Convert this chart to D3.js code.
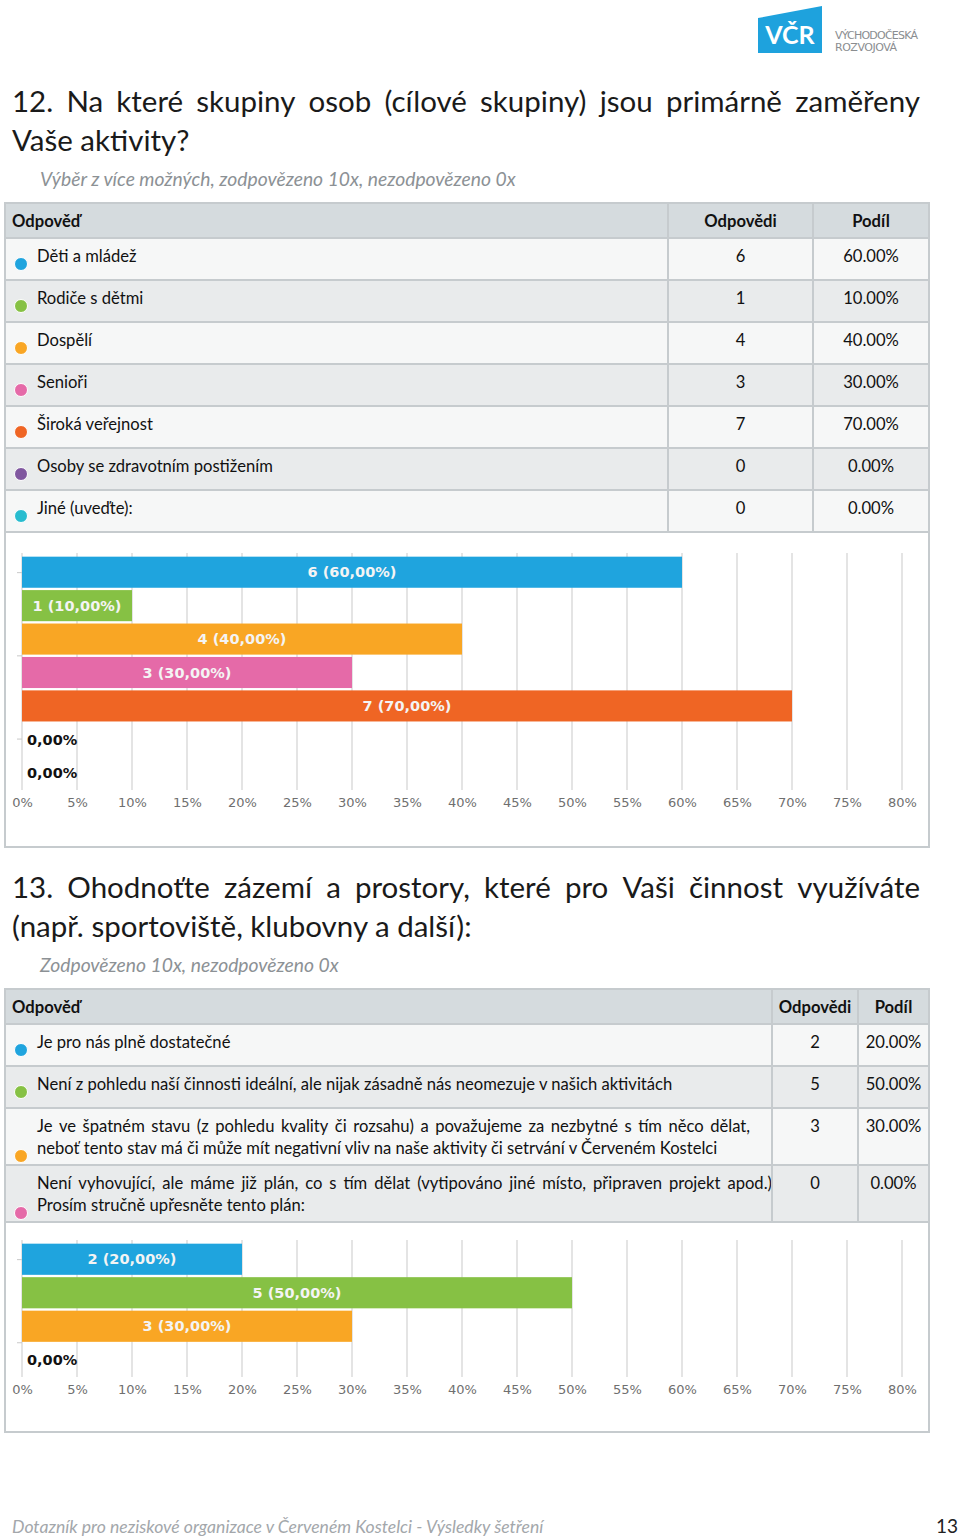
<!DOCTYPE html>
<html><head><meta charset="utf-8">
<script src="https://cdn.jsdelivr.net/npm/d3@7"></script>
<style>
html,body{margin:0;padding:0;background:#fff;}
svg{display:block;}
</style></head>
<body>
<script>
// ---------------- DATA ----------------
const q12TitleLines = ["12. Na které skupiny osob (cílové skupiny) jsou primárně zaměřeny", "Vaše aktivity?"];
const q12Subtitle = "Výběr z více možných, zodpovězeno 10x, nezodpovězeno 0x";
const q12Answers = ["Děti a mládež","Rodiče s dětmi","Dospělí","Senioři","Široká veřejnost","Osoby se zdravotním postižením","Jiné (uveďte):"];
const q12Counts = [6,1,4,3,7,0,0];
const q12Shares = [60,10,40,30,70,0,0];

const q13TitleLines = ["13. Ohodnoťte zázemí a prostory, které pro Vaši činnost využíváte", "(např. sportoviště, klubovny a další):"];
const q13Subtitle = "Zodpovězeno 10x, nezodpovězeno 0x";
const q13Answers = [
  ["Je pro nás plně dostatečné"],
  ["Není z pohledu naší činnosti ideální, ale nijak zásadně nás neomezuje v našich aktivitách"],
  ["Je ve špatném stavu (z pohledu kvality či rozsahu) a považujeme za nezbytné s tím něco dělat,","neboť tento stav má či může mít negativní vliv na naše aktivity či setrvání v Červeném Kostelci"],
  ["Není vyhovující, ale máme již plán, co s tím dělat (vytipováno jiné místo, připraven projekt apod.)","Prosím stručně upřesněte tento plán:"]
];
const q13Counts = [2,5,3,0];
const q13Shares = [20,50,30,0];

const axisTicks = [0,5,10,15,20,25,30,35,40,45,50,55,60,65,70,75,80];
const headerLabels = ["Odpověď","Odpovědi","Podíl"];
const footerText = "Dotazník pro neziskové organizace v Červeném Kostelci - Výsledky šetření";
const pageNumber = "13";

// ---------------- STYLE ----------------
const palette = ["#1fa4de","#86c144","#f9a624","#e56aa8","#ef6524","#80579f","#27bccf"];
const FONT = "Lato, 'Open Sans', sans-serif";
const CHARTFONT = "'DejaVu Sans', sans-serif";
const tableBorder = "#c6cbce";
const headerBg = "#d5dbde";
const rowBgs = ["#f6f7f7","#e9ebec"];
const TFS = 16.6;

const svg = d3.select("body").append("svg").attr("width",960).attr("height",1538);

// ---------------- LOGO ----------------
const logo = svg.append("g");
logo.append("polygon").attr("points","758,18 822,6 822,53 758,53").attr("fill","#1ea2dd");
logo.append("text").attr("x",790).attr("y",44).attr("text-anchor","middle")
  .attr("font-family",FONT).attr("font-weight",700).attr("font-size",25).attr("fill","#fff").text("VČR");
logo.append("text").attr("x",835).attr("y",39).attr("font-family",CHARTFONT).attr("font-size",11).attr("fill","#8a8d90").attr("textLength",83).text("VÝCHODOČESKÁ");
logo.append("text").attr("x",835).attr("y",51).attr("font-family",CHARTFONT).attr("font-size",11).attr("fill","#8a8d90").attr("textLength",62).text("ROZVOJOVÁ");

// ---------------- helpers ----------------
function justifyLine(g, text, x0, x1, y, attrs){
  const words = text.split(" ");
  const nodes = words.map(w=>{
    const t = g.append("text").attr("y",y).text(w);
    for(const k in attrs) t.attr(k, attrs[k]);
    return t;
  });
  const widths = nodes.map(n=>n.node().getComputedTextLength());
  const total = d3.sum(widths);
  const gap = words.length>1 ? (x1-x0-total)/(words.length-1) : 0;
  let x = x0;
  nodes.forEach((n,i)=>{ n.attr("x",x); x += widths[i]+gap; });
}

function drawTitle(lines, subtitle, y0){
  const g = svg.append("g");
  const attrs = {"font-family":FONT,"font-size":29.5,"fill":"#1a1a1a"};
  lines.forEach((l,i)=>{
    if(i<lines.length-1) justifyLine(g,l,12,920,y0+i*39,attrs);
    else { const t=g.append("text").attr("x",12).attr("y",y0+i*39).text(l); for(const k in attrs) t.attr(k,attrs[k]); }
  });
  g.append("text").attr("x",40).attr("y",y0+(lines.length-1)*39+35).attr("font-family",FONT).attr("font-style","italic")
    .attr("font-size",19.3).attr("fill","#8c9195").text(subtitle);
}

function drawTable(y0, answers, counts, shares, colX, rowHeights, justifyTo){
  const g = svg.append("g");
  const x0=5, x3=929;
  const headerH = 35;
  g.append("rect").attr("x",x0).attr("y",y0).attr("width",x3-x0).attr("height",headerH).attr("fill",headerBg);
  const ta = {"font-family":FONT,"font-size":TFS,"fill":"#111"};
  const hd = (x,anchor,txt)=>g.append("text").attr("x",x).attr("y",y0+24).attr("text-anchor",anchor).attr("font-family",FONT).attr("font-weight",700).attr("font-size",TFS).attr("fill","#111").text(txt);
  hd(12,"start",headerLabels[0]);
  hd((colX[0]+colX[1])/2,"middle",headerLabels[1]);
  hd((colX[1]+x3)/2,"middle",headerLabels[2]);
  let y = y0+headerH;
  answers.forEach((ans,i)=>{
    const h = rowHeights[i];
    g.append("rect").attr("x",x0).attr("y",y).attr("width",x3-x0).attr("height",h).attr("fill",rowBgs[i%2]);
    g.append("line").attr("x1",x0).attr("x2",x3).attr("y1",y).attr("y2",y).attr("stroke",tableBorder).attr("stroke-width",2);
    const lines = Array.isArray(ans)?ans:[ans];
    lines.forEach((l,j)=>{
      const by = y+24+j*22;
      if(lines.length>1 && j===0) justifyLine(g,l,37,justifyTo[i],by,ta);
      else { const t=g.append("text").attr("x",37).attr("y",by).text(l); for(const k in ta) t.attr(k,ta[k]); }
    });
    const dotY = y+26+(lines.length-1)*22;
    g.append("circle").attr("cx",21).attr("cy",dotY).attr("r",6.5).attr("fill",palette[i]).attr("stroke","#fff").attr("stroke-width",1);
    g.append("text").attr("x",(colX[0]+colX[1])/2).attr("y",y+24).attr("text-anchor","middle").attr("font-family",FONT).attr("font-size",TFS).attr("fill","#111").text(counts[i]);
    g.append("text").attr("x",(colX[1]+x3)/2).attr("y",y+24).attr("text-anchor","middle").attr("font-family",FONT).attr("font-size",TFS).attr("fill","#111").text(shares[i].toFixed(2)+"%");
    y += h;
  });
  g.append("line").attr("x1",x0).attr("x2",x3).attr("y1",y).attr("y2",y).attr("stroke",tableBorder).attr("stroke-width",2);
  colX.forEach(cx=>{
    g.append("line").attr("x1",cx).attr("x2",cx).attr("y1",y0).attr("y2",y).attr("stroke",tableBorder).attr("stroke-width",2);
  });
  g.append("rect").attr("x",x0).attr("y",y0).attr("width",x3-x0).attr("height",y-y0).attr("fill","none").attr("stroke",tableBorder).attr("stroke-width",2);
  return y;
}

function drawChart(yTop, yBottom, plotTop, plotBottom, shares, counts, leftTicks){
  const g = svg.append("g");
  g.append("rect").attr("x",5).attr("y",yTop).attr("width",924).attr("height",yBottom-yTop).attr("fill","#fff").attr("stroke",tableBorder).attr("stroke-width",2);
  const x = d3.scaleLinear().domain([0,80]).range([22,902]);
  const y = d3.scaleBand().domain(d3.range(shares.length)).range([plotTop,plotBottom]).paddingInner(0.07).paddingOuter(0.02);
  const yl = d3.scaleLinear().domain([0,shares.length]).range([plotTop,plotBottom]);
  g.append("g").selectAll("line").data(axisTicks).join("line")
    .attr("x1",d=>x(d)).attr("x2",d=>x(d)).attr("y1",plotTop-3).attr("y2",plotBottom+1)
    .attr("stroke","#c9c9c9").attr("stroke-width",1);
  g.append("g").selectAll("line").data(leftTicks).join("line")
    .attr("x1",17).attr("x2",22).attr("y1",d=>yl(d)).attr("y2",d=>yl(d)).attr("stroke","#c9c9c9");
  const axis = d3.axisBottom(x).tickValues(axisTicks).tickFormat(d=>d+"%").tickSize(0).tickPadding(0);
  const ax = g.append("g").attr("transform",`translate(0,${plotBottom+13})`).call(axis);
  ax.select(".domain").remove();
  ax.selectAll("text").attr("font-family",CHARTFONT).attr("font-size",13).attr("fill","#6f6f6f").attr("dy","0.35em");
  g.append("g").selectAll("rect").data(shares).join("rect")
    .attr("x",x(0)).attr("y",(d,i)=>y(i)).attr("width",d=>x(d)-x(0)).attr("height",y.bandwidth())
    .attr("fill",(d,i)=>palette[i]);
  g.append("g").selectAll("text").data(shares).join("text")
    .attr("x",d=> d>0 ? (x(0)+x(d))/2 : x(0)+5)
    .attr("y",(d,i)=>y(i)+y.bandwidth()/2)
    .attr("dy","0.36em")
    .attr("text-anchor",d=>d>0?"middle":"start")
    .attr("font-family",CHARTFONT).attr("font-weight",700).attr("font-size",14.5)
    .attr("fill",d=>d>0?"#f4f4f4":"#111")
    .text((d,i)=> d>0 ? `${counts[i]} (${d.toFixed(2).replace(".",",")}%)` : `${d.toFixed(2).replace(".",",")}%`);
}

// ---------------- Q12 ----------------
drawTitle(q12TitleLines, q12Subtitle, 112);
const t1Bottom = drawTable(203, q12Answers, q12Counts, q12Shares, [668,813], q12Answers.map(()=>42), q12Answers.map(()=>660));
drawChart(t1Bottom, 847, 556, 789, q12Shares, q12Counts, [0.5,3,5.5]);

// ---------------- Q13 ----------------
drawTitle(q13TitleLines, q13Subtitle, 898);
const t2Bottom = drawTable(989, q13Answers, q13Counts, q13Shares, [772,858], q13Answers.map(a=>42+15*(a.length-1)), [0,0,750,772]);
drawChart(t2Bottom, 1432, 1243, 1376, q13Shares, q13Counts, [0.5,3]);

// ---------------- FOOTER ----------------
svg.append("text").attr("x",12).attr("y",1533).attr("font-family",FONT).attr("font-style","italic").attr("font-size",17.6).attr("fill","#a3a7ab").text(footerText);
svg.append("text").attr("x",958).attr("y",1533).attr("text-anchor","end").attr("font-family",FONT).attr("font-size",19).attr("fill","#222").text(pageNumber);
</script>
</body></html>
